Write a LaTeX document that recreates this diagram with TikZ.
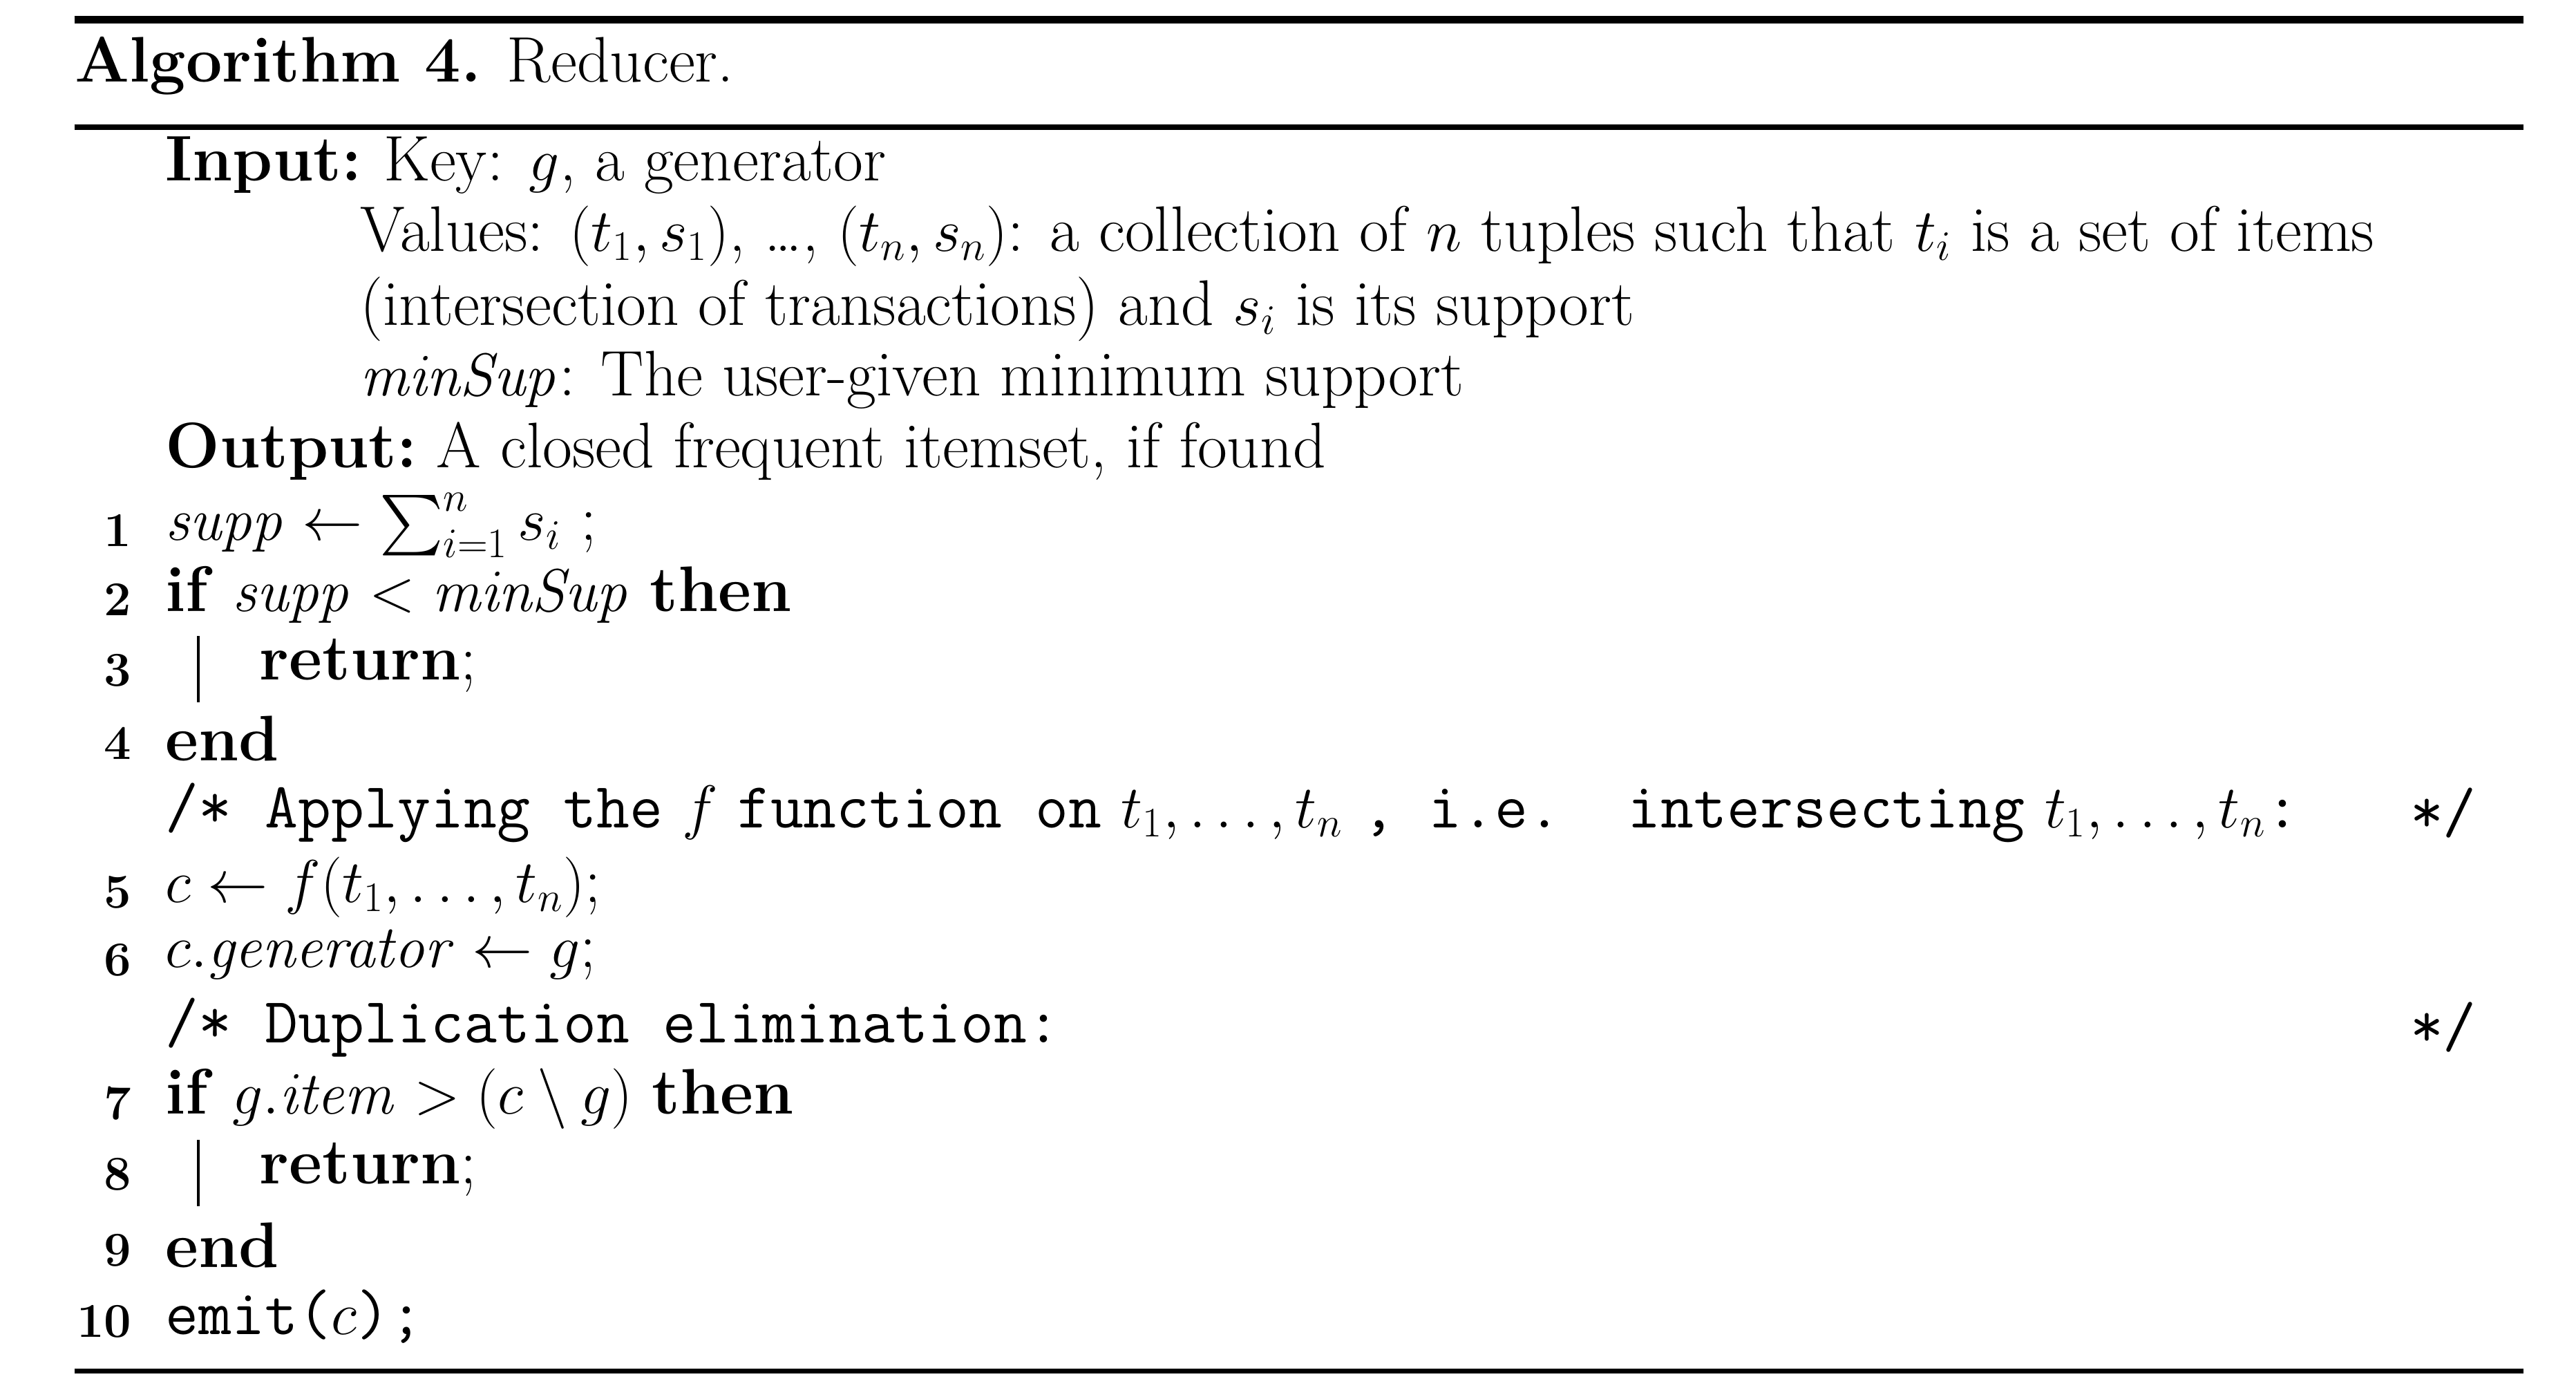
\documentclass[tikz,border=0pt]{standalone}
\usepackage{amsmath}
\begin{document}
\begin{tikzpicture}[x=0.0239cm,y=-0.0239cm,
  txt/.style={anchor=west,inner sep=0pt,font=\fontsize{26.5}{30}\selectfont},
  num/.style={anchor=east,inner sep=0pt,font=\fontsize{20}{24}\selectfont\bfseries},
  rule/.style={line width=2.2pt}]
\useasboundingbox (0,0) rectangle (1560,840);
\draw[rule,line width=3pt] (45,12) -- (1528,12);
\draw[rule] (45,77) -- (1528,77);
\draw[rule] (45,830) -- (1528,830);
\node[txt] (title) at (45,40) {\textbf{Algorithm 4.} Reducer.};
\node[txt] (in) at (100,100) {\textbf{Input:}};
\node[txt] (in1) at (232,100) {Key: $g$, a generator};
\node[txt] (in2) at (218,143) {Values: $(t_1,s_1)$, \dots, $(t_n,s_n)$: a collection of $n$ tuples such that $t_i$ is a set of items};
\node[txt] (in3) at (218,187) {(intersection of transactions) and $s_i$ is its support};
\node[txt] (in4) at (218,230) {$\mathit{minSup}$: The user-given minimum support};
\node[txt] (out) at (100,273) {\textbf{Output:}\ A closed frequent itemset, if found};
\node[num] (n1) at (80,321) {1}; \node[txt] (l1) at (100,318) {$\mathit{supp}\leftarrow\sum_{i=1}^{n} s_i$ ;};
\node[num] (n2) at (80,363) {2}; \node[txt] (l2) at (100,360) {\textbf{if} $\mathit{supp}<\mathit{minSup}$ \textbf{then}};
\node[num] (n3) at (80,406) {3}; \node[txt] (l3) at (157,403) {\textbf{return};};
\node[num] (n4) at (80,450) {4}; \node[txt] (l4) at (100,447) {\textbf{end}};
\node[txt] (c1) at (100,492) {\texttt{/* Applying the} $f$ \texttt{function on} $t_1,\dots,t_n$ \texttt{, i.e.\ \ intersecting} $t_1,\dots,t_n$\texttt{:}};
\node[txt,anchor=east] (c1e) at (1500,492) {\texttt{*/}};
\node[num] (n5) at (80,540) {5}; \node[txt] (l5) at (100,537) {$c\leftarrow f(t_1,\dots,t_n)$;};
\node[num] (n6) at (80,581) {6}; \node[txt] (l6) at (100,578) {$c.\mathit{generator}\leftarrow g$;};
\node[txt] (c2) at (100,622) {\texttt{/* Duplication elimination:}};
\node[txt,anchor=east] (c2e) at (1500,622) {\texttt{*/}};
\node[num] (n7) at (80,668) {7}; \node[txt] (l7) at (100,665) {\textbf{if} $g.\mathit{item}>(c\setminus g)$ \textbf{then}};
\node[num] (n8) at (80,711) {8}; \node[txt] (l8) at (157,708) {\textbf{return};};
\node[num] (n9) at (80,757) {9}; \node[txt] (l9) at (100,754) {\textbf{end}};
\node[num] (n10) at (80,800) {10}; \node[txt] (l10) at (100,797) {\texttt{emit(}$c$\texttt{);}};
\draw[line width=1pt] (120,385) -- (120,425);
\draw[line width=1pt] (120,690) -- (120,730);
\end{tikzpicture}
\end{document}
